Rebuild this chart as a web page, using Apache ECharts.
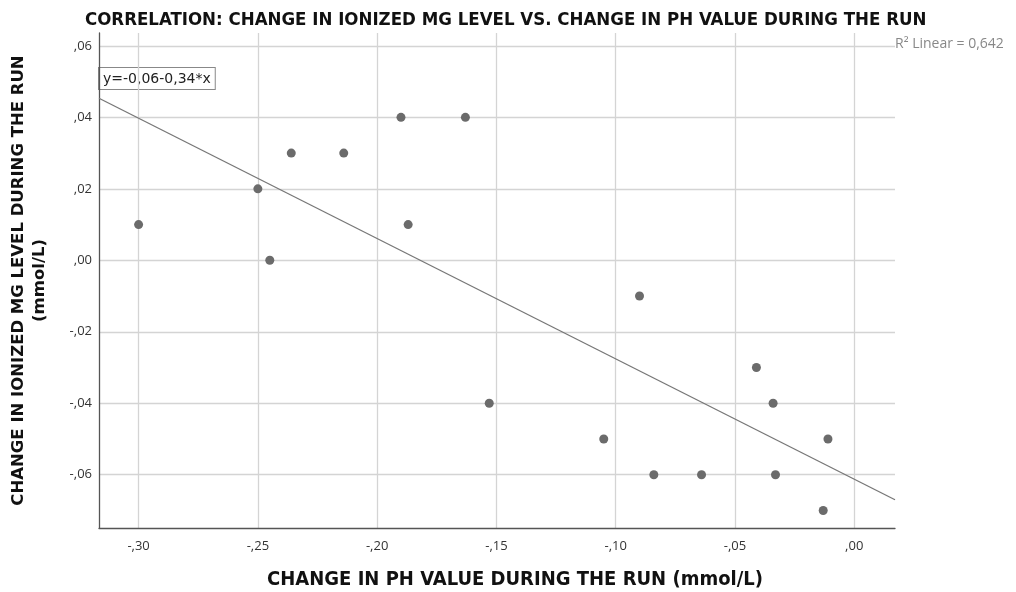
<!DOCTYPE html>
<html>
<head>
<meta charset="utf-8">
<script src="https://cdn.jsdelivr.net/npm/echarts@6/dist/echarts.min.js"></script>
<style>
html,body{margin:0;padding:0;background:#fff;}
#chart{width:1016px;height:592px;}
</style>
</head>
<body>
<div id="chart"></div>
<script>
// change in pH (x) vs change in ionized Mg (y), one entry per run
var phChange = [-0.300, -0.250, -0.245, -0.236, -0.214, -0.190, -0.187, -0.163, -0.153,
	-0.105, -0.090, -0.084, -0.064, -0.041, -0.034, -0.033, -0.011, -0.013];
var mgChange = [0.01, 0.02, 0.00, 0.03, 0.03, 0.04, 0.01, 0.04, -0.04,
	-0.05, -0.01, -0.06, -0.06, -0.03, -0.04, -0.06, -0.05, -0.07];
var xRange = [-0.3166, 0.0171];
var yRange = [-0.0749, 0.0636];
var titleText = "CORRELATION: CHANGE IN IONIZED MG LEVEL VS. CHANGE IN PH VALUE DURING THE RUN";
var xName = "CHANGE IN PH VALUE DURING THE RUN (mmol/L)";
var yName = "CHANGE IN IONIZED MG LEVEL DURING THE RUN\n(mmol/L)";
var eqText = "y=-0,06-0,34*x";
var r2Text = "R² Linear = 0,642";

var points = [];
for (var i = 0; i < phChange.length; i++) points.push([phChange[i], mgChange[i]]);

// least squares fit line
function fitLine(xs, ys){
	var n = xs.length, mx = 0, my = 0;
	for (var i = 0; i < n; i++){ mx += xs[i]; my += ys[i]; }
	mx /= n; my /= n;
	var sxy = 0, sxx = 0;
	for (var i = 0; i < n; i++){ sxy += (xs[i]-mx)*(ys[i]-my); sxx += (xs[i]-mx)*(xs[i]-mx); }
	var b = sxy / sxx;
	return {a: my - b*mx, b: b};
}
var fit = fitLine(phChange, mgChange);
var fitData = [[xRange[0], fit.a + fit.b*xRange[0]], [xRange[1], fit.a + fit.b*xRange[1]]];

function spssLabel(step){
	return function(v){
		if (Math.abs(v/step - Math.round(v/step)) > 1e-6) return '';
		var s = v.toFixed(2).replace('.', ',');
		return s.replace('0,', ',');
	};
}

var labelFont = "'Open Sans', 'DejaVu Sans', sans-serif";
var boldFont = "'DejaVu Sans Condensed', sans-serif";

var myChart = echarts.init(document.getElementById('chart'));
var option = {
	animation: false,
	title: {
		text: titleText,
		left: 80,
		top: 6,
		textStyle: {fontFamily: boldFont, fontSize: 18.5, fontWeight: 'bold', color: '#111'}
	},
	grid: {left: 99, right: 121, top: 33, bottom: 64, outerBoundsMode: 'none', containLabel: false},
	xAxis: {
		type: 'value',
		min: xRange[0],
		max: xRange[1],
		splitNumber: 7,
		name: xName,
		nameLocation: 'middle',
		nameGap: 42,
		nameTextStyle: {fontFamily: boldFont, fontSize: 20, fontWeight: 'bold', color: '#111', padding: [0, 0, 0, 36]},
		axisLine: {onZero: false, lineStyle: {color: '#555', width: 1.3}},
		axisTick: {show: false},
		axisLabel: {formatter: spssLabel(0.05), fontFamily: labelFont, fontSize: 13, color: '#333', margin: 12, showMinLabel: false, showMaxLabel: false},
		splitLine: {show: true, showMinLine: false, showMaxLine: false, lineStyle: {color: '#d4d4d4', width: 1.3}}
	},
	yAxis: {
		type: 'value',
		min: yRange[0],
		max: yRange[1],
		splitNumber: 7,
		name: yName,
		nameLocation: 'middle',
		nameRotate: 90,
		nameGap: 49,
		nameTextStyle: {fontFamily: "'DejaVu Sans', sans-serif", fontSize: 16.5, fontWeight: 'bold', color: '#111', lineHeight: 21, align: 'center'},
		axisLine: {show: true, onZero: false, lineStyle: {color: '#555', width: 1.3}},
		axisTick: {show: false},
		axisLabel: {formatter: spssLabel(0.02), fontFamily: labelFont, fontSize: 13, color: '#333', margin: 7, showMinLabel: false, showMaxLabel: false},
		splitLine: {show: true, showMinLine: false, showMaxLine: false, lineStyle: {color: '#d4d4d4', width: 1.3}}
	},
	series: [
		{
			type: 'line',
			data: fitData,
			symbol: 'none',
			silent: true,
			lineStyle: {color: '#777', width: 1.3}
		},
		{
			type: 'scatter',
			data: points,
			symbolSize: 9,
			itemStyle: {color: '#6b6b6b', opacity: 1}
		}
	],
	graphic: [
		{
			type: 'text',
			left: 98,
			top: 67,
			style: {
				text: eqText,
				fontFamily: "'DejaVu Sans', sans-serif",
				fontSize: 14,
				fill: '#222',
				backgroundColor: '#fff',
				borderColor: '#888',
				borderWidth: 1,
				padding: [4, 4, 3, 4]
			}
		},
		{
			type: 'text',
			left: 895,
			top: 37,
			style: {
				text: r2Text,
				fontFamily: labelFont,
				fontSize: 14,
				fill: '#888'
			}
		}
	]
};
myChart.setOption(option);
</script>
</body>
</html>
